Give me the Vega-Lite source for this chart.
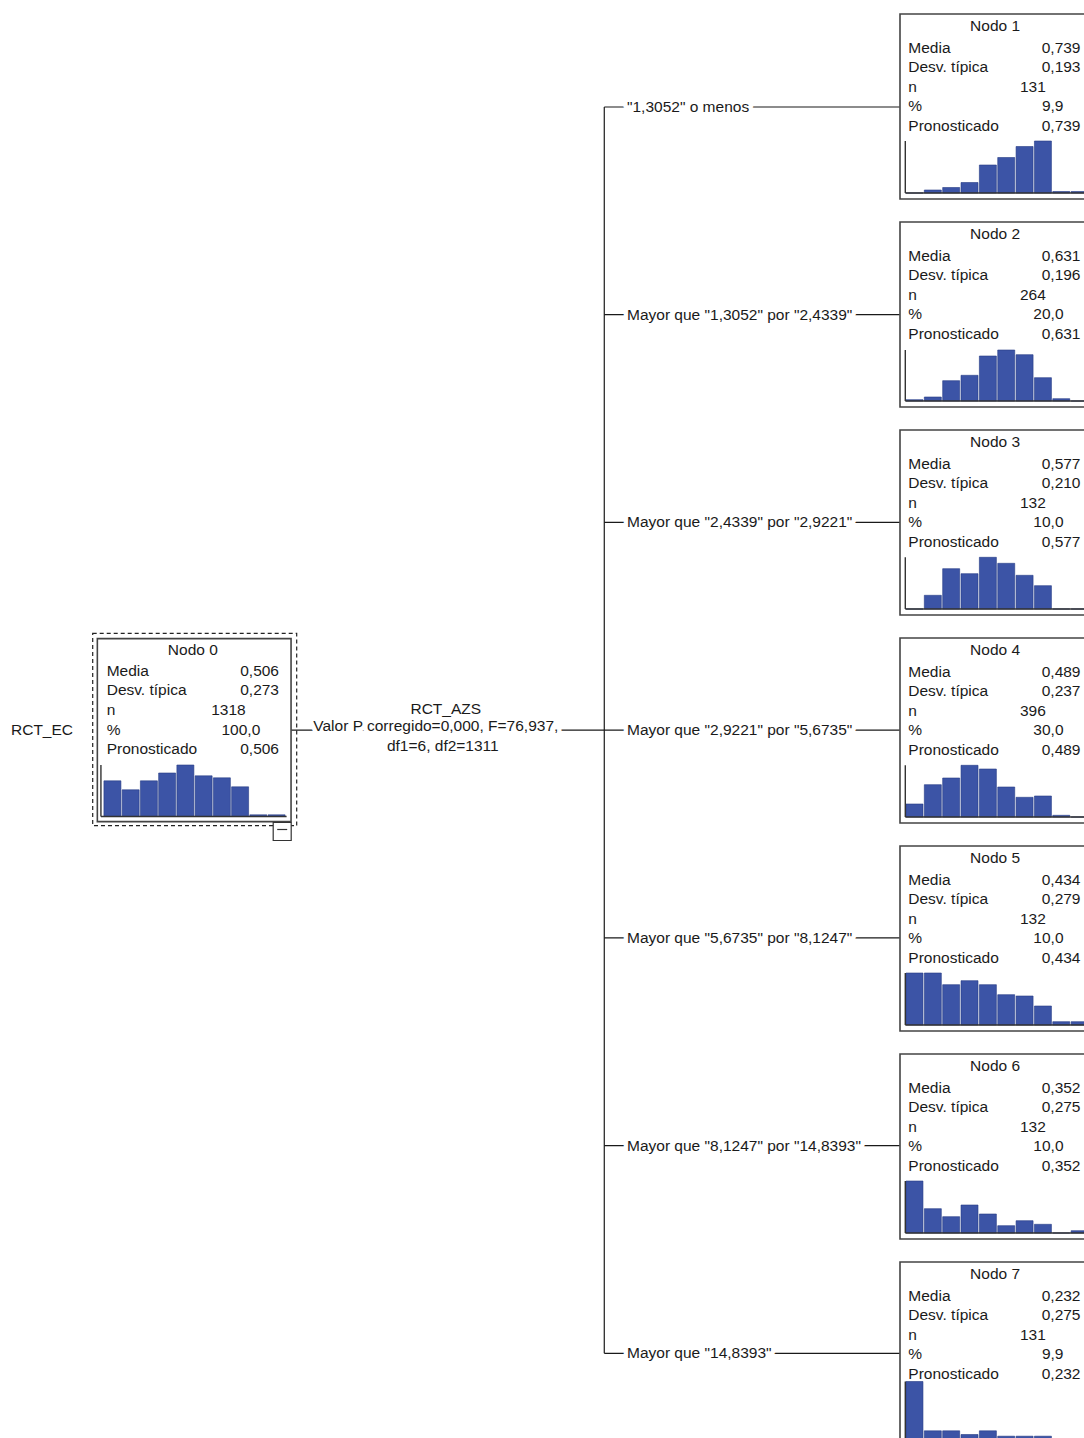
{
  "$schema": "https://vega.github.io/schema/vega-lite/v6.json",
  "background": "white",
  "padding": {"left": 0, "top": 13, "right": 0, "bottom": 0},
  "spacing": 0,
  "bounds": "flush",
  "config": {
    "view": {"stroke": null},
    "axis": {"disable": true},
    "text": {"font": "Liberation Sans", "fontSize": 15.5, "color": "#1a1a1a"},
    "locale": {"number": {"decimal": ",", "thousands": ".", "grouping": [3], "currency": ["", " €"]}}
  },
  "datasets": {
    "nodes": [
      {"node": "Nodo 0", "level": 0, "order": 4, "media": 0.506, "desv": 0.273, "n": 1318, "pct": 100.0, "pron": 0.506, "target": "RCT_EC", "split_var": "RCT_AZS", "split_test": "Valor P corregido=0,000, F=76,937,", "split_df": "df1=6, df2=1311"},
      {"node": "Nodo 1", "level": 1, "order": 1, "media": 0.739, "desv": 0.193, "n": 131, "pct": 9.9, "pron": 0.739, "branch": "\"1,3052\" o menos"},
      {"node": "Nodo 2", "level": 1, "order": 2, "media": 0.631, "desv": 0.196, "n": 264, "pct": 20.0, "pron": 0.631, "branch": "Mayor que \"1,3052\" por \"2,4339\""},
      {"node": "Nodo 3", "level": 1, "order": 3, "media": 0.577, "desv": 0.210, "n": 132, "pct": 10.0, "pron": 0.577, "branch": "Mayor que \"2,4339\" por \"2,9221\""},
      {"node": "Nodo 4", "level": 1, "order": 4, "media": 0.489, "desv": 0.237, "n": 396, "pct": 30.0, "pron": 0.489, "branch": "Mayor que \"2,9221\" por \"5,6735\""},
      {"node": "Nodo 5", "level": 1, "order": 5, "media": 0.434, "desv": 0.279, "n": 132, "pct": 10.0, "pron": 0.434, "branch": "Mayor que \"5,6735\" por \"8,1247\""},
      {"node": "Nodo 6", "level": 1, "order": 6, "media": 0.352, "desv": 0.275, "n": 132, "pct": 10.0, "pron": 0.352, "branch": "Mayor que \"8,1247\" por \"14,8393\""},
      {"node": "Nodo 7", "level": 1, "order": 7, "media": 0.232, "desv": 0.275, "n": 131, "pct": 9.9, "pron": 0.232, "branch": "Mayor que \"14,8393\""}
    ],
    "bins": [
      {"node": "Nodo 0", "bin": 1, "freq": 35.7}, {"node": "Nodo 0", "bin": 2, "freq": 26.7}, {"node": "Nodo 0", "bin": 3, "freq": 35.7}, {"node": "Nodo 0", "bin": 4, "freq": 43.5}, {"node": "Nodo 0", "bin": 5, "freq": 51.5},
      {"node": "Nodo 0", "bin": 6, "freq": 40.7}, {"node": "Nodo 0", "bin": 7, "freq": 38.7}, {"node": "Nodo 0", "bin": 8, "freq": 29.7}, {"node": "Nodo 0", "bin": 9, "freq": 1.7}, {"node": "Nodo 0", "bin": 10, "freq": 1.7},
      {"node": "Nodo 1", "bin": 1, "freq": 0}, {"node": "Nodo 1", "bin": 2, "freq": 3}, {"node": "Nodo 1", "bin": 3, "freq": 5.5}, {"node": "Nodo 1", "bin": 4, "freq": 10.5}, {"node": "Nodo 1", "bin": 5, "freq": 28},
      {"node": "Nodo 1", "bin": 6, "freq": 35.5}, {"node": "Nodo 1", "bin": 7, "freq": 46.5}, {"node": "Nodo 1", "bin": 8, "freq": 52}, {"node": "Nodo 1", "bin": 9, "freq": 1.5}, {"node": "Nodo 1", "bin": 10, "freq": 1.5},
      {"node": "Nodo 2", "bin": 1, "freq": 1.3}, {"node": "Nodo 2", "bin": 2, "freq": 4}, {"node": "Nodo 2", "bin": 3, "freq": 20.3}, {"node": "Nodo 2", "bin": 4, "freq": 25.7}, {"node": "Nodo 2", "bin": 5, "freq": 45},
      {"node": "Nodo 2", "bin": 6, "freq": 51}, {"node": "Nodo 2", "bin": 7, "freq": 46.3}, {"node": "Nodo 2", "bin": 8, "freq": 23.3}, {"node": "Nodo 2", "bin": 9, "freq": 2.3}, {"node": "Nodo 2", "bin": 10, "freq": 0},
      {"node": "Nodo 3", "bin": 1, "freq": 0}, {"node": "Nodo 3", "bin": 2, "freq": 13.7}, {"node": "Nodo 3", "bin": 3, "freq": 40.3}, {"node": "Nodo 3", "bin": 4, "freq": 35.3}, {"node": "Nodo 3", "bin": 5, "freq": 51.7},
      {"node": "Nodo 3", "bin": 6, "freq": 45.7}, {"node": "Nodo 3", "bin": 7, "freq": 33.7}, {"node": "Nodo 3", "bin": 8, "freq": 23.3}, {"node": "Nodo 3", "bin": 9, "freq": 0}, {"node": "Nodo 3", "bin": 10, "freq": 0},
      {"node": "Nodo 4", "bin": 1, "freq": 13}, {"node": "Nodo 4", "bin": 2, "freq": 32.3}, {"node": "Nodo 4", "bin": 3, "freq": 39}, {"node": "Nodo 4", "bin": 4, "freq": 51.7}, {"node": "Nodo 4", "bin": 5, "freq": 48},
      {"node": "Nodo 4", "bin": 6, "freq": 30}, {"node": "Nodo 4", "bin": 7, "freq": 19.7}, {"node": "Nodo 4", "bin": 8, "freq": 21}, {"node": "Nodo 4", "bin": 9, "freq": 1.7}, {"node": "Nodo 4", "bin": 10, "freq": 0},
      {"node": "Nodo 5", "bin": 1, "freq": 52}, {"node": "Nodo 5", "bin": 2, "freq": 52}, {"node": "Nodo 5", "bin": 3, "freq": 40.3}, {"node": "Nodo 5", "bin": 4, "freq": 44.3}, {"node": "Nodo 5", "bin": 5, "freq": 40.3},
      {"node": "Nodo 5", "bin": 6, "freq": 30.3}, {"node": "Nodo 5", "bin": 7, "freq": 29}, {"node": "Nodo 5", "bin": 8, "freq": 19}, {"node": "Nodo 5", "bin": 9, "freq": 3.3}, {"node": "Nodo 5", "bin": 10, "freq": 3.3},
      {"node": "Nodo 6", "bin": 1, "freq": 52}, {"node": "Nodo 6", "bin": 2, "freq": 24.3}, {"node": "Nodo 6", "bin": 3, "freq": 16.3}, {"node": "Nodo 6", "bin": 4, "freq": 28}, {"node": "Nodo 6", "bin": 5, "freq": 19},
      {"node": "Nodo 6", "bin": 6, "freq": 7.3}, {"node": "Nodo 6", "bin": 7, "freq": 12.3}, {"node": "Nodo 6", "bin": 8, "freq": 8.7}, {"node": "Nodo 6", "bin": 9, "freq": 0}, {"node": "Nodo 6", "bin": 10, "freq": 2.3},
      {"node": "Nodo 7", "bin": 1, "freq": 59.5}, {"node": "Nodo 7", "bin": 2, "freq": 10.2}, {"node": "Nodo 7", "bin": 3, "freq": 10.2}, {"node": "Nodo 7", "bin": 4, "freq": 6.5}, {"node": "Nodo 7", "bin": 5, "freq": 10.2},
      {"node": "Nodo 7", "bin": 6, "freq": 4.8}, {"node": "Nodo 7", "bin": 7, "freq": 4.8}, {"node": "Nodo 7", "bin": 8, "freq": 4.8}, {"node": "Nodo 7", "bin": 9, "freq": 0}, {"node": "Nodo 7", "bin": 10, "freq": 0}
    ]
  },
  "hconcat": [
    {
      "width": 900,
      "height": 1425,
      "layer": [
        {
          "data": {"name": "nodes"},
          "layer": [
            {
              "transform": [{"filter": "datum.level === 1"}],
              "mark": {"type": "rule", "color": "#1a1a1a", "strokeWidth": 1.2},
              "encoding": {
                "x": {"datum": 0.511, "type": "quantitative", "scale": {"domain": [-0.24199, 0.8795], "nice": false, "zero": false, "padding": 0}},
                "y": {"aggregate": "min", "field": "order", "type": "quantitative", "scale": {"domain": [0.55229, 7.41249], "reverse": true, "nice": false, "zero": false, "padding": 0}},
                "y2": {"aggregate": "max", "field": "order"}
              }
            },
            {
              "transform": [{"filter": "datum.level === 1"}],
              "mark": {"type": "rule", "color": "#1a1a1a", "strokeWidth": 1.2, "xOffset": -97},
              "encoding": {
                "x": {"field": "level", "type": "quantitative"},
                "x2": {"datum": 0.511},
                "y": {"field": "order", "type": "quantitative"}
              }
            },
            {
              "transform": [{"filter": "datum.level === 0"}],
              "mark": {"type": "rule", "color": "#1a1a1a", "strokeWidth": 1.2, "xOffset": 97},
              "encoding": {
                "x": {"field": "level", "type": "quantitative"},
                "x2": {"datum": 0.511},
                "y": {"field": "order", "type": "quantitative"}
              }
            },
            {
              "transform": [{"filter": "datum.level === 1"}],
              "mark": {"type": "text", "align": "left", "baseline": "middle", "dx": 22.7, "fill": "white", "stroke": "white", "strokeWidth": 9, "strokeJoin": "round"},
              "encoding": {
                "x": {"datum": 0.511, "type": "quantitative"},
                "y": {"field": "order", "type": "quantitative"},
                "text": {"field": "branch"}
              }
            },
            {
              "transform": [{"filter": "datum.level === 1"}],
              "mark": {"type": "text", "align": "left", "baseline": "middle", "dx": 22.7},
              "encoding": {
                "x": {"datum": 0.511, "type": "quantitative"},
                "y": {"field": "order", "type": "quantitative"},
                "text": {"field": "branch"}
              }
            },
            {
              "transform": [{"filter": "datum.level === 0"}],
              "mark": {"type": "text", "align": "center", "baseline": "middle", "dx": 241.6, "dy": -4.5, "fill": "white", "stroke": "white", "strokeWidth": 9, "strokeJoin": "round"},
              "encoding": {
                "x": {"field": "level", "type": "quantitative"},
                "y": {"field": "order", "type": "quantitative"},
                "text": {"field": "split_test"}
              }
            },
            {
              "transform": [{"filter": "datum.level === 0"}],
              "mark": {"type": "text", "align": "center", "baseline": "middle", "dx": 251.6, "dy": -21.5},
              "encoding": {
                "x": {"field": "level", "type": "quantitative"},
                "y": {"field": "order", "type": "quantitative"},
                "text": {"field": "split_var"}
              }
            },
            {
              "transform": [{"filter": "datum.level === 0"}],
              "mark": {"type": "text", "align": "center", "baseline": "middle", "dx": 241.6, "dy": -4.5},
              "encoding": {
                "x": {"field": "level", "type": "quantitative"},
                "y": {"field": "order", "type": "quantitative"},
                "text": {"field": "split_test"}
              }
            },
            {
              "transform": [{"filter": "datum.level === 0"}],
              "mark": {"type": "text", "align": "center", "baseline": "middle", "dx": 248.6, "dy": 15.5},
              "encoding": {
                "x": {"field": "level", "type": "quantitative"},
                "y": {"field": "order", "type": "quantitative"},
                "text": {"field": "split_df"}
              }
            },
            {
              "transform": [{"filter": "datum.level === 0"}],
              "mark": {"type": "text", "align": "left", "baseline": "middle", "dx": -183.2},
              "encoding": {
                "x": {"field": "level", "type": "quantitative"},
                "y": {"field": "order", "type": "quantitative"},
                "text": {"field": "target"}
              }
            },
            {
              "transform": [{"filter": "datum.level === 0"}],
              "mark": {"type": "point", "shape": "M-1.0608,-1H1.0608V1H-1.0608Z", "size": 36979, "filled": false, "opacity": 1, "stroke": "#222222", "strokeWidth": 1.2, "strokeDash": [4, 3], "xOffset": 0.5, "yOffset": -0.6},
              "encoding": {
                "x": {"field": "level", "type": "quantitative"},
                "y": {"field": "order", "type": "quantitative"}
              }
            },
            {
              "transform": [{"filter": "datum.level === 0"}],
              "mark": {"type": "point", "shape": "M-1.0585,-1H1.0585V1H-1.0585Z", "size": 33489, "filled": false, "opacity": 1, "stroke": "#444444", "strokeWidth": 1.6},
              "encoding": {
                "x": {"field": "level", "type": "quantitative"},
                "y": {"field": "order", "type": "quantitative"}
              }
            }
          ]
        },
        {
          "data": {"name": "bins"},
          "transform": [
            {"filter": "datum.node === 'Nodo 0'"},
            {"lookup": "node", "from": {"data": {"name": "nodes"}, "key": "node", "fields": ["media", "desv", "n", "pct", "pron"]}}
          ],
          "layer": [
            {
              "mark": {"type": "bar", "width": 17, "fill": "#3c54a6", "stroke": "#253a85", "strokeWidth": 0.6},
              "encoding": {
                "x": {"field": "bin", "type": "quantitative", "scale": {"domain": [-5.1634, 44.1786], "nice": false, "zero": false, "padding": 0}},
                "y": {"field": "freq", "type": "quantitative", "scale": {"domain": [-622.5, 802.5], "nice": false, "zero": false, "padding": 0}}
              }
            },
            {
              "transform": [{"filter": "datum.bin === 1"}],
              "mark": {"type": "rule", "color": "#333333", "strokeWidth": 1.4},
              "encoding": {
                "x": {"datum": 0.37, "type": "quantitative"},
                "x2": {"datum": 10.55},
                "y": {"datum": 0, "type": "quantitative"}
              }
            },
            {
              "mark": {"type": "rule", "color": "#333333", "strokeWidth": 1.4},
              "encoding": {
                "x": {"datum": 0.37, "type": "quantitative"},
                "y": {"aggregate": "max", "field": "freq", "type": "quantitative"},
                "y2": {"datum": 0}
              }
            },
            {
              "transform": [{"filter": "datum.bin === 1"}],
              "mark": {"type": "text", "align": "center", "baseline": "middle", "dx": -1.7, "dy": -167},
              "encoding": {"x": {"datum": 5.5, "type": "quantitative"}, "y": {"datum": 0, "type": "quantitative"}, "text": {"field": "node"}}
            },
            {
              "transform": [{"filter": "datum.bin === 1"}],
              "mark": {"type": "text", "align": "left", "baseline": "middle", "dx": 3.4, "dy": -145.5},
              "encoding": {"x": {"datum": 0.5, "type": "quantitative"}, "y": {"datum": 0, "type": "quantitative"}, "text": {"value": "Media"}}
            },
            {
              "transform": [{"filter": "datum.bin === 1"}],
              "mark": {"type": "text", "align": "left", "baseline": "middle", "dx": 3.4, "dy": -126.5},
              "encoding": {"x": {"datum": 0.5, "type": "quantitative"}, "y": {"datum": 0, "type": "quantitative"}, "text": {"value": "Desv. típica"}}
            },
            {
              "transform": [{"filter": "datum.bin === 1"}],
              "mark": {"type": "text", "align": "left", "baseline": "middle", "dx": 3.4, "dy": -106.5},
              "encoding": {"x": {"datum": 0.5, "type": "quantitative"}, "y": {"datum": 0, "type": "quantitative"}, "text": {"value": "n"}}
            },
            {
              "transform": [{"filter": "datum.bin === 1"}],
              "mark": {"type": "text", "align": "left", "baseline": "middle", "dx": 3.4, "dy": -87},
              "encoding": {"x": {"datum": 0.5, "type": "quantitative"}, "y": {"datum": 0, "type": "quantitative"}, "text": {"value": "%"}}
            },
            {
              "transform": [{"filter": "datum.bin === 1"}],
              "mark": {"type": "text", "align": "left", "baseline": "middle", "dx": 3.4, "dy": -67.5},
              "encoding": {"x": {"datum": 0.5, "type": "quantitative"}, "y": {"datum": 0, "type": "quantitative"}, "text": {"value": "Pronosticado"}}
            },
            {
              "transform": [{"filter": "datum.bin === 1"}],
              "mark": {"type": "text", "align": "right", "baseline": "middle", "dx": -6.7, "dy": -145.5},
              "encoding": {"x": {"datum": 10.5, "type": "quantitative"}, "y": {"datum": 0, "type": "quantitative"}, "text": {"field": "media", "type": "quantitative", "format": ".3f"}}
            },
            {
              "transform": [{"filter": "datum.bin === 1"}],
              "mark": {"type": "text", "align": "right", "baseline": "middle", "dx": -6.7, "dy": -126.5},
              "encoding": {"x": {"datum": 10.5, "type": "quantitative"}, "y": {"datum": 0, "type": "quantitative"}, "text": {"field": "desv", "type": "quantitative", "format": ".3f"}}
            },
            {
              "transform": [{"filter": "datum.bin === 1"}],
              "mark": {"type": "text", "align": "right", "baseline": "middle", "dx": -40, "dy": -106.5},
              "encoding": {"x": {"datum": 10.5, "type": "quantitative"}, "y": {"datum": 0, "type": "quantitative"}, "text": {"field": "n", "type": "quantitative", "format": "d"}}
            },
            {
              "transform": [{"filter": "datum.bin === 1"}],
              "mark": {"type": "text", "align": "right", "baseline": "middle", "dx": -25.4, "dy": -87},
              "encoding": {"x": {"datum": 10.5, "type": "quantitative"}, "y": {"datum": 0, "type": "quantitative"}, "text": {"field": "pct", "type": "quantitative", "format": ".1f"}}
            },
            {
              "transform": [{"filter": "datum.bin === 1"}],
              "mark": {"type": "text", "align": "right", "baseline": "middle", "dx": -6.7, "dy": -67.5},
              "encoding": {"x": {"datum": 10.5, "type": "quantitative"}, "y": {"datum": 0, "type": "quantitative"}, "text": {"field": "pron", "type": "quantitative", "format": ".3f"}}
            },
            {
              "transform": [{"filter": "datum.bin === 1"}],
              "mark": {"type": "point", "shape": "square", "size": 324, "filled": true, "fill": "white", "opacity": 1, "stroke": "#333333", "strokeWidth": 1.2, "xOffset": -3.5, "yOffset": 15},
              "encoding": {"x": {"datum": 10.5, "type": "quantitative"}, "y": {"datum": 0, "type": "quantitative"}}
            },
            {
              "transform": [{"filter": "datum.bin === 1"}],
              "mark": {"type": "point", "shape": "M-1,0H1", "size": 100, "filled": false, "opacity": 1, "stroke": "#333333", "strokeWidth": 1.2, "xOffset": -3.5, "yOffset": 13},
              "encoding": {"x": {"datum": 10.5, "type": "quantitative"}, "y": {"datum": 0, "type": "quantitative"}}
            }
          ]
        }
      ],
      "resolve": {"scale": {"x": "independent", "y": "independent"}}
    },
    {
      "data": {"name": "bins"},
      "transform": [
        {"filter": "datum.node !== 'Nodo 0'"},
        {"lookup": "node", "from": {"data": {"name": "nodes"}, "key": "node", "fields": ["media", "desv", "n", "pct", "pron"]}}
      ],
      "facet": {"row": {"field": "node", "type": "nominal", "header": null}},
      "spacing": 23,
      "bounds": "flush",
      "spec": {
        "width": 194,
        "height": 185,
        "view": {"stroke": "#444444", "strokeWidth": 1.6},
        "layer": [
          {
            "mark": {"type": "bar", "width": 17, "fill": "#3c54a6", "stroke": "#253a85", "strokeWidth": 0.6},
            "encoding": {
              "x": {"field": "bin", "type": "quantitative", "scale": {"domain": [0.2112, 10.7832], "nice": false, "zero": false, "padding": 0}},
              "y": {"field": "freq", "type": "quantitative", "scale": {"domain": [-6, 179], "nice": false, "zero": false, "padding": 0}}
            }
          },
          {
            "transform": [{"filter": "datum.bin === 1"}],
            "mark": {"type": "rule", "color": "#333333", "strokeWidth": 1.4},
            "encoding": {
              "x": {"datum": 0.5, "type": "quantitative"},
              "x2": {"datum": 10.7832},
              "y": {"datum": 0, "type": "quantitative"}
            }
          },
          {
            "mark": {"type": "rule", "color": "#333333", "strokeWidth": 1.4},
            "encoding": {
              "x": {"datum": 0.5, "type": "quantitative"},
              "y": {"aggregate": "max", "field": "freq", "type": "quantitative"},
              "y2": {"datum": 0}
            }
          },
          {
            "transform": [{"filter": "datum.bin === 1"}],
            "mark": {"type": "text", "align": "center", "baseline": "middle", "dx": -2, "dy": -167},
            "encoding": {"x": {"datum": 5.5, "type": "quantitative"}, "y": {"datum": 0, "type": "quantitative"}, "text": {"field": "node"}}
          },
          {
            "transform": [{"filter": "datum.bin === 1"}],
            "mark": {"type": "text", "align": "left", "baseline": "middle", "dx": 3, "dy": -145.5},
            "encoding": {"x": {"datum": 0.5, "type": "quantitative"}, "y": {"datum": 0, "type": "quantitative"}, "text": {"value": "Media"}}
          },
          {
            "transform": [{"filter": "datum.bin === 1"}],
            "mark": {"type": "text", "align": "left", "baseline": "middle", "dx": 3, "dy": -126.5},
            "encoding": {"x": {"datum": 0.5, "type": "quantitative"}, "y": {"datum": 0, "type": "quantitative"}, "text": {"value": "Desv. típica"}}
          },
          {
            "transform": [{"filter": "datum.bin === 1"}],
            "mark": {"type": "text", "align": "left", "baseline": "middle", "dx": 3, "dy": -106.5},
            "encoding": {"x": {"datum": 0.5, "type": "quantitative"}, "y": {"datum": 0, "type": "quantitative"}, "text": {"value": "n"}}
          },
          {
            "transform": [{"filter": "datum.bin === 1"}],
            "mark": {"type": "text", "align": "left", "baseline": "middle", "dx": 3, "dy": -87},
            "encoding": {"x": {"datum": 0.5, "type": "quantitative"}, "y": {"datum": 0, "type": "quantitative"}, "text": {"value": "%"}}
          },
          {
            "transform": [{"filter": "datum.bin === 1"}],
            "mark": {"type": "text", "align": "left", "baseline": "middle", "dx": 3, "dy": -67.5},
            "encoding": {"x": {"datum": 0.5, "type": "quantitative"}, "y": {"datum": 0, "type": "quantitative"}, "text": {"value": "Pronosticado"}}
          },
          {
            "transform": [{"filter": "datum.bin === 1"}],
            "mark": {"type": "text", "align": "right", "baseline": "middle", "dx": -8.3, "dy": -145.5},
            "encoding": {"x": {"datum": 10.5, "type": "quantitative"}, "y": {"datum": 0, "type": "quantitative"}, "text": {"field": "media", "type": "quantitative", "format": ".3f"}}
          },
          {
            "transform": [{"filter": "datum.bin === 1"}],
            "mark": {"type": "text", "align": "right", "baseline": "middle", "dx": -8.3, "dy": -126.5},
            "encoding": {"x": {"datum": 10.5, "type": "quantitative"}, "y": {"datum": 0, "type": "quantitative"}, "text": {"field": "desv", "type": "quantitative", "format": ".3f"}}
          },
          {
            "transform": [{"filter": "datum.bin === 1"}],
            "mark": {"type": "text", "align": "right", "baseline": "middle", "dx": -43, "dy": -106.5},
            "encoding": {"x": {"datum": 10.5, "type": "quantitative"}, "y": {"datum": 0, "type": "quantitative"}, "text": {"field": "n", "type": "quantitative", "format": "d"}}
          },
          {
            "transform": [{"filter": "datum.bin === 1"}],
            "mark": {"type": "text", "align": "right", "baseline": "middle", "dx": -25.3, "dy": -87},
            "encoding": {"x": {"datum": 10.5, "type": "quantitative"}, "y": {"datum": 0, "type": "quantitative"}, "text": {"field": "pct", "type": "quantitative", "format": ".1f"}}
          },
          {
            "transform": [{"filter": "datum.bin === 1"}],
            "mark": {"type": "text", "align": "right", "baseline": "middle", "dx": -8.3, "dy": -67.5},
            "encoding": {"x": {"datum": 10.5, "type": "quantitative"}, "y": {"datum": 0, "type": "quantitative"}, "text": {"field": "pron", "type": "quantitative", "format": ".3f"}}
          }
        ]
      }
    }
  ]
}
